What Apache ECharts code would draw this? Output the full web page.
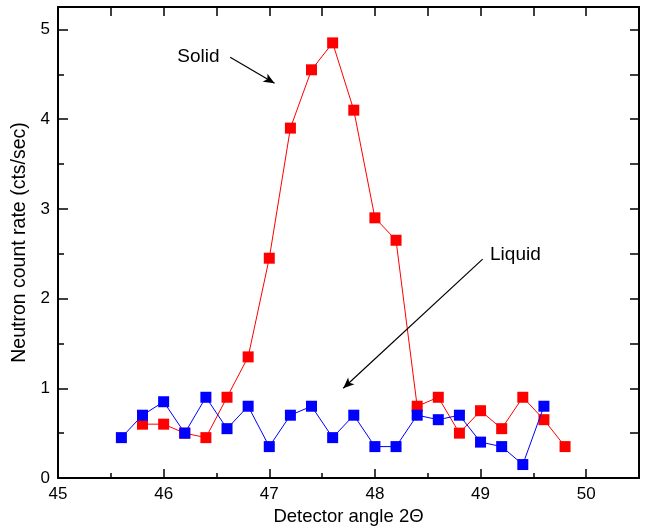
<!DOCTYPE html>
<html>
<head>
<meta charset="utf-8">
<script src="https://cdn.jsdelivr.net/npm/echarts@6/dist/echarts.min.js"></script>
<style>
  html, body { margin: 0; padding: 0; background: #fff; }
  #chart { width: 645px; height: 526px; }
</style>
</head>
<body>
<div id="chart"></div>
<script>
// Detector angle positions (2Θ, degrees) and count rates (cts/sec)
const solidAngles = [45.8, 46.0, 46.2, 46.4, 46.6, 46.8, 47.0, 47.2, 47.4, 47.6, 47.8,
                     48.0, 48.2, 48.4, 48.6, 48.8, 49.0, 49.2, 49.4, 49.6, 49.8];
const solidRates  = [0.6, 0.6, 0.5, 0.45, 0.9, 1.35, 2.45, 3.9, 4.55, 4.85, 4.1,
                     2.9, 2.65, 0.8, 0.9, 0.5, 0.75, 0.55, 0.9, 0.65, 0.35];

const liquidAngles = [45.6, 45.8, 46.0, 46.2, 46.4, 46.6, 46.8, 47.0, 47.2, 47.4, 47.6,
                      47.8, 48.0, 48.2, 48.4, 48.6, 48.8, 49.0, 49.2, 49.4, 49.6];
const liquidRates  = [0.45, 0.7, 0.85, 0.5, 0.9, 0.55, 0.8, 0.35, 0.7, 0.8, 0.45,
                      0.7, 0.35, 0.35, 0.7, 0.65, 0.7, 0.4, 0.35, 0.15, 0.8];

// Tick labels
const xTickLabels = [45, 46, 47, 48, 49, 50];
const yTickLabels = [0, 1, 2, 3, 4, 5];

// Annotation arrows in data coordinates: [from, to]
const solidArrow  = [[46.63, 4.69], [47.05, 4.40]];
const liquidArrow = [[49.02, 2.44], [47.70, 1.00]];

const FONT = 'Liberation Sans, Arial, Helvetica, sans-serif';

const pairs = (xs, ys) => xs.map((x, i) => [x, ys[i]]);

function frameAxis(opts) {
  const o = {
    type: 'value',
    axisLine: { show: opts.line !== false, onZero: false, lineStyle: { color: '#000', width: 2 } },
    axisTick: { show: true, inside: true, length: opts.tick, lineStyle: { color: '#000', width: 1.5 } },
    splitLine: { show: false },
    axisLabel: { show: false }
  };
  if (opts.labels) {
    o.axisLabel = {
      show: true,
      color: '#000',
      fontFamily: FONT,
      fontSize: 17,
      customValues: opts.labels,
      formatter: v => String(Math.round(v))
    };
  }
  return Object.assign(o, opts.extra);
}

const chart = echarts.init(document.getElementById('chart'), null, { renderer: 'canvas' });

const arrowLine = (seg) => ({
  silent: true,
  symbol: ['none', 'arrow'],
  symbolSize: [7, 11],
  label: { show: false },
  lineStyle: { color: '#000', width: 1.2, type: 'solid' },
  data: [[{ coord: seg[0] }, { coord: seg[1] }]]
});

const xRange = { min: 45, max: 50.5 };
const yRange = { min: 0, max: 5.25 };

chart.setOption({
  animation: false,
  backgroundColor: '#fff',
  grid: { left: 58, right: 6, top: 7, bottom: 48, containLabel: false, outerBoundsMode: 'none' },
  xAxis: [
    frameAxis({ tick: 5, labels: xTickLabels, extra: Object.assign({
      position: 'bottom', interval: 0.5,
      name: 'Detector angle 2Θ', nameLocation: 'middle', nameGap: 27,
      nameTextStyle: { color: '#000', fontFamily: FONT, fontSize: 18.5 }
    }, xRange) }),
    frameAxis({ tick: 9, extra: Object.assign({ position: 'top', interval: 0.5 }, xRange) }),
    frameAxis({ tick: 9, line: false, extra: Object.assign({ position: 'bottom', interval: 1 }, xRange) })
  ],
  yAxis: [
    frameAxis({ tick: 6, labels: yTickLabels, extra: Object.assign({
      position: 'left', interval: 0.5,
      name: 'Neutron count rate (cts/sec)', nameLocation: 'middle', nameGap: 23,
      nameTextStyle: { color: '#000', fontFamily: FONT, fontSize: 19.5 }
    }, yRange) }),
    frameAxis({ tick: 9, extra: Object.assign({ position: 'right', interval: 0.5 }, yRange) }),
    frameAxis({ tick: 10, line: false, extra: Object.assign({ position: 'left', interval: 1 }, yRange) })
  ],
  series: [
    {
      name: 'Solid',
      type: 'line',
      data: pairs(solidAngles, solidRates),
      symbol: 'rect',
      symbolSize: 11,
      lineStyle: { color: '#ff0000', width: 1 },
      itemStyle: { color: '#ff0000' },
      z: 2,
      markLine: arrowLine(solidArrow)
    },
    {
      name: 'Liquid',
      type: 'line',
      data: pairs(liquidAngles, liquidRates),
      symbol: 'rect',
      symbolSize: 11,
      lineStyle: { color: '#0000ff', width: 1 },
      itemStyle: { color: '#0000ff' },
      z: 3,
      markLine: arrowLine(liquidArrow)
    }
  ]
});

// Text annotations, placed through the axes' own scales
const solidPos = chart.convertToPixel({ gridIndex: 0 }, [46.33, 4.70]);
const liquidPos = chart.convertToPixel({ gridIndex: 0 }, [49.09, 2.49]);
chart.setOption({
  graphic: [
    { type: 'text', x: solidPos[0], y: solidPos[1],
      style: { text: 'Solid', fill: '#000', font: '19px ' + FONT, align: 'center', verticalAlign: 'middle' } },
    { type: 'text', x: liquidPos[0], y: liquidPos[1],
      style: { text: 'Liquid', fill: '#000', font: '19px ' + FONT, align: 'left', verticalAlign: 'middle' } }
  ]
});
</script>
</body>
</html>
